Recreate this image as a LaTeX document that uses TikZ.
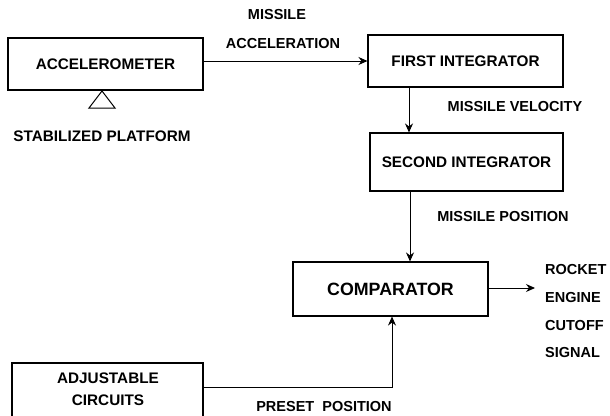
\documentclass[tikz,border=0pt]{standalone}
\usepackage{fontspec}
\setmainfont{Liberation Sans}
\usetikzlibrary{arrows.meta}
\begin{document}
\begin{tikzpicture}[x=1pt,y=-1pt,
  box/.style={draw,line width=1.1pt,inner sep=0pt,font=\bfseries\fontsize{15.3}{17}\selectfont,align=center},
  lbl/.style={inner sep=0pt,font=\bfseries\fontsize{14.5}{16}\selectfont},
  arr/.style={line width=1pt,-{Stealth[length=9pt,width=8pt]}},
  ln/.style={line width=1pt}]
\useasboundingbox (0,0) rectangle (610,415);
\clip (0,0) rectangle (610,415);
\node[box,minimum width=195pt,minimum height=52pt] (acc) at (105.5,64) {ACCELEROMETER};
\node[box,minimum width=195pt,minimum height=52pt] (fi) at (465.5,61) {FIRST INTEGRATOR};
\node[box,minimum width=193pt,minimum height=58pt] (si) at (466.5,162) {SECOND INTEGRATOR};
\node[box,minimum width=195pt,minimum height=54pt,font=\bfseries\fontsize{17.8}{20}\selectfont] (comp) at (390.5,289) {COMPARATOR};
\node[box,minimum width=191pt,minimum height=60pt] (adj) at (107.5,393) {};
\node[lbl,font=\bfseries\fontsize{15.3}{17}\selectfont] (adj1) at (108,378) {ADJUSTABLE};
\node[lbl,font=\bfseries\fontsize{15.3}{17}\selectfont] (adj2) at (108,400) {CIRCUITS};
% triangle (stabilized platform)
\draw[ln] (102,91) -- (115,108) -- (89,108) -- cycle;
\node[lbl,font=\bfseries\fontsize{15.3}{17}\selectfont] (stab) at (102,136) {STABILIZED PLATFORM};
% labels
\node[lbl] (m1) at (277,15) {MISSILE};
\node[lbl] (m2) at (283,44) {ACCELERATION};
\node[lbl] (mv) at (515,107) {MISSILE VELOCITY};
\node[lbl] (mp) at (503,217) {MISSILE POSITION};
\node[lbl,anchor=west] (r1) at (545,270) {ROCKET};
\node[lbl,anchor=west] (r2) at (545,298) {ENGINE};
\node[lbl,anchor=west] (r3) at (545,326) {CUTOFF};
\node[lbl,anchor=west] (r4) at (545,353) {SIGNAL};
\node[lbl] (pp) at (324,407) {PRESET\ \ POSITION};
% connectors
\draw[arr] (acc.east |- fi.west) -- (fi.west);
\draw[arr] (409,0 |- fi.south) -- (409,0 |- si.north);
\draw[arr] (410,0 |- si.south) -- (410,0 |- comp.north);
\coordinate (out) at (535,288);
\draw[arr] (comp.east |- out) -- (out);
\coordinate (bend) at (392,387);
\draw[arr] (adj.east |- bend) -- (bend) -- (bend |- comp.south);
\end{tikzpicture}
\end{document}
